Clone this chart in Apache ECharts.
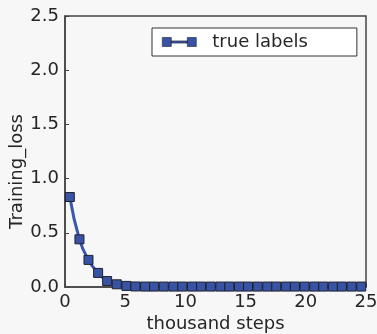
<!DOCTYPE html>
<html>
<head>
<meta charset="utf-8">
<script src="https://cdn.jsdelivr.net/npm/echarts@6/dist/echarts.min.js"></script>
<style>
  html, body { margin: 0; padding: 0; background: #f7f7f7; }
  #chart { width: 377px; height: 334px; }
</style>
</head>
<body>
<div id="chart"></div>
<script>
// thousand steps
var steps = [0.4, 1.2, 1.95, 2.75, 3.5, 4.3, 5.1, 5.85, 6.65, 7.4, 8.2, 9.0, 9.75, 10.55, 11.3, 12.1,
             12.9, 13.65, 14.45, 15.2, 16.0, 16.8, 17.55, 18.35, 19.1, 19.9, 20.7, 21.45, 22.25, 23.0, 23.8, 24.6];
var loss = [0.83, 0.44, 0.25, 0.13, 0.055, 0.025, 0.01, 0.005, 0.004, 0.004, 0.004, 0.004, 0.004, 0.004, 0.004, 0.004,
            0.004, 0.004, 0.004, 0.004, 0.004, 0.004, 0.004, 0.004, 0.004, 0.004, 0.004, 0.004, 0.004, 0.004, 0.004, 0.004];
var xTicks = [0, 5, 10, 15, 20, 25];
var yTicks = [0, 0.5, 1.0, 1.5, 2.0, 2.5];

var chart = echarts.init(document.getElementById('chart'));
var font = 'DejaVu Sans';
var option = {
    backgroundColor: '#f7f7f7',
    animation: false,
    textStyle: { fontFamily: font },
    grid: {
        left: 65, right: 11, top: 16, bottom: 47,
        outerBoundsMode: 'none',
        containLabel: false,
        show: true, borderColor: '#444', borderWidth: 1.5, backgroundColor: 'transparent'
    },
    legend: {
        left: 152, top: 28,
        padding: [5, 49, 5, 10],
        backgroundColor: '#ffffff',
        borderColor: '#333',
        borderWidth: 1,
        borderRadius: 0,
        itemWidth: 34, itemHeight: 9,
        icon: 'path://M0,0h9v9h-9z M9,3.4h16v2.2h-16z M25,0h9v9h-9z',
        itemStyle: { borderWidth: 0.6 },
        textStyle: { fontSize: 18, color: '#262626', fontFamily: font, padding: [0, 0, 0, 11] },
        data: ['true labels']
    },
    xAxis: {
        type: 'value', min: 0, max: 25, interval: 5,
        name: 'thousand steps', nameLocation: 'middle', nameGap: 28,
        nameMoveOverlap: false,
        nameTextStyle: { fontSize: 18, color: '#262626' },
        axisLine: { show: true, lineStyle: { color: '#444', width: 1.5 } },
        axisTick: { show: true, inside: true, length: 4, lineStyle: { color: '#444' } },
        axisLabel: { fontSize: 18, color: '#262626', margin: 6,
            formatter: function (v) { return xTicks.indexOf(v) >= 0 ? String(v) : ''; } },
        splitLine: { show: false }
    },
    yAxis: {
        type: 'value', min: 0, max: 2.5, interval: 0.5,
        name: 'Training_loss', nameLocation: 'middle', nameGap: 39,
        nameMoveOverlap: false,
        nameTextStyle: { fontSize: 18, color: '#262626', padding: [0, 40, 0, 0] },
        axisLine: { show: true, lineStyle: { color: '#444', width: 1.5 } },
        axisTick: { show: true, inside: true, length: 4, lineStyle: { color: '#444' } },
        axisLabel: { fontSize: 18, color: '#262626', margin: 6,
            formatter: function (v) { return yTicks.indexOf(v) >= 0 ? v.toFixed(1) : ''; } },
        splitLine: { show: false }
    },
    series: [{
        name: 'true labels',
        type: 'line',
        smooth: true,
        data: steps.map(function (s, i) { return [s, loss[i]]; }),
        symbol: 'rect',
        symbolSize: 9,
        lineStyle: { color: '#3a57ad', width: 3 },
        itemStyle: { color: '#3953a4', borderColor: '#1e2230', borderWidth: 1 },
        z: 3
    }]
};
chart.setOption(option);
</script>
</body>
</html>
